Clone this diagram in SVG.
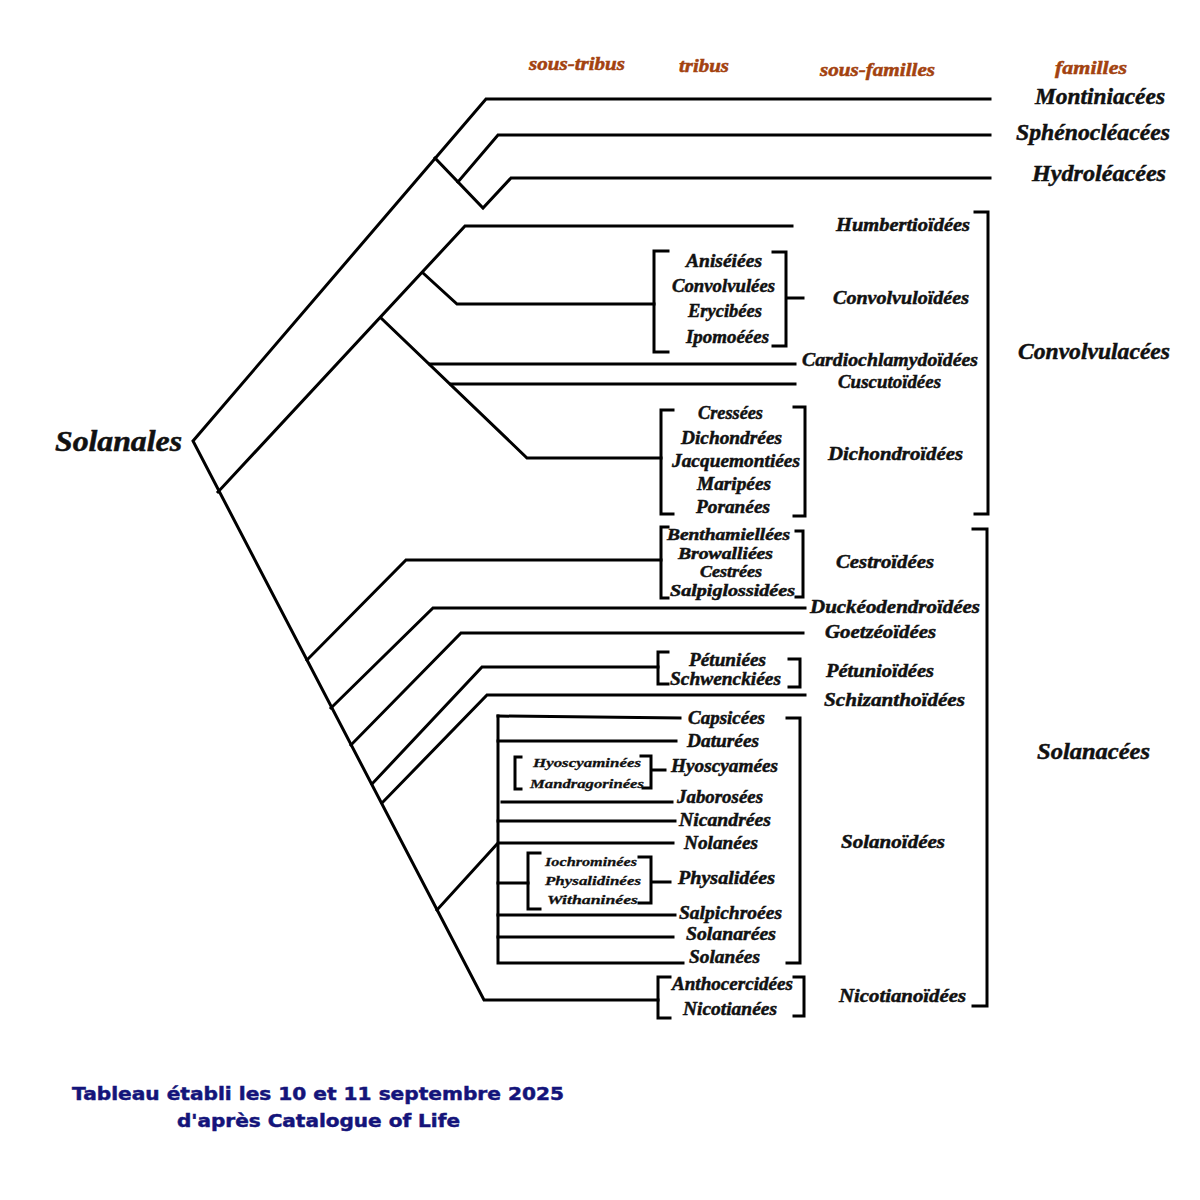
<svg xmlns="http://www.w3.org/2000/svg" width="1200" height="1200" viewBox="0 0 1200 1200">
<style>
.ln{stroke:#000;stroke-width:3;fill:none;stroke-linejoin:miter;stroke-linecap:square}
.t{font-family:"Liberation Serif","DejaVu Serif",serif;font-style:italic;font-weight:bold;fill:#111;stroke:#111;stroke-width:0.5}
.fam{font-size:24px}
.root{font-size:29px}
.sf{font-size:19px}
.tr{font-size:19px}
.tc{font-size:16.5px}
.st{font-size:13.5px;stroke-width:0.3}
.hd{font-size:19px;fill:#a3420f;stroke:#a3420f}
.ft{font-family:"DejaVu Sans","Liberation Sans",Arial,sans-serif;font-weight:bold;font-size:18px;fill:#14147a;stroke:#14147a;stroke-width:0.5}
</style>
<rect width="1200" height="1200" fill="#fff"/>
<g id="connectors">
<path class="ln" d="M990,99 H486 L193,441 L484,1000 H658"/>
<path class="ln" d="M435,158 L483,208 L511,178 H990"/>
<path class="ln" d="M458,182 L498,135 H990"/>
<path class="ln" d="M218,492 L465,226 H792"/>
<path class="ln" d="M423,273 L457,304 H654"/>
<path class="ln" d="M381,318 L527,458 H661"/>
<path class="ln" d="M430,364 H795"/>
<path class="ln" d="M451,384 H795"/>
<path class="ln" d="M307,660 L406,560 H661"/>
<path class="ln" d="M331,708 L433,608 H805"/>
<path class="ln" d="M351,745 L461,633 H803"/>
<path class="ln" d="M372,784 L482,667 H658"/>
<path class="ln" d="M382,803 L487,695 H805"/>
<path class="ln" d="M437,910 L498,843 H673"/>
<path class="ln" d="M498,716 V963 H683"/>
<path class="ln" d="M498,716 L680,718"/>
<path class="ln" d="M498,741 H676"/>
<path class="ln" d="M502,802 H672"/>
<path class="ln" d="M498,821 H675"/>
<path class="ln" d="M498,883 H528"/>
<path class="ln" d="M498,915 H675"/>
<path class="ln" d="M498,937 H673"/>
</g>
<g id="brackets">
<path class="ln" d="M668,251 H654 V352 H668"/>
<path class="ln" d="M773,252 H786 V346 H773 M786,298 H803"/>
<path class="ln" d="M673,410 H661 V514 H673"/>
<path class="ln" d="M794,407 H805 V516 H794"/>
<path class="ln" d="M668,527 H661 V598 H668"/>
<path class="ln" d="M796,531 H803 V597 H796"/>
<path class="ln" d="M668,652 H658 V684 H668"/>
<path class="ln" d="M789,659 H800 V687 H789"/>
<path class="ln" d="M521,757 H515 V789 H521"/>
<path class="ln" d="M641,756 H651 V788 H643 M651,770 H665"/>
<path class="ln" d="M540,853 H528 V909 H540"/>
<path class="ln" d="M639,857 H651 V903 H639 M651,882 H670"/>
<path class="ln" d="M787,718 H800 V963 H787"/>
<path class="ln" d="M670,977 H658 V1018 H670"/>
<path class="ln" d="M794,977 H804 V1016 H794"/>
<path class="ln" d="M975,212 H988 V514 H975"/>
<path class="ln" d="M973,529 H987 V1006 H973"/>
</g>
<g id="headers">
<text class="t hd" x="529" y="70" textLength="96" lengthAdjust="spacingAndGlyphs">sous-tribus</text>
<text class="t hd" x="679" y="72" textLength="50" lengthAdjust="spacingAndGlyphs">tribus</text>
<text class="t hd" x="820" y="76" textLength="115" lengthAdjust="spacingAndGlyphs">sous-familles</text>
<text class="t hd" x="1055" y="74" textLength="72" lengthAdjust="spacingAndGlyphs">familles</text>
</g>
<g id="n-solanales"><text class="t root" x="55" y="451" textLength="127" lengthAdjust="spacingAndGlyphs">Solanales</text></g>
<g id="n-montiniacees"><text class="t fam" x="1035" y="104" textLength="130" lengthAdjust="spacingAndGlyphs">Montiniacées</text></g>
<g id="n-sphenocleacees"><text class="t fam" x="1016" y="140" textLength="154" lengthAdjust="spacingAndGlyphs">Sphénocléacées</text></g>
<g id="n-hydroleacees"><text class="t fam" x="1032" y="181" textLength="134" lengthAdjust="spacingAndGlyphs">Hydroléacées</text></g>
<g id="n-convolvulacees"><text class="t fam" x="1018" y="359" textLength="152" lengthAdjust="spacingAndGlyphs">Convolvulacées</text></g>
<g id="n-solanacees"><text class="t fam" x="1037" y="759" textLength="113" lengthAdjust="spacingAndGlyphs">Solanacées</text></g>
<g id="subfamilies">
<g id="n-humbertioidees"><text class="t sf" x="836" y="231" textLength="134" lengthAdjust="spacingAndGlyphs">Humbertioïdées</text></g>
<g id="n-convolvuloidees"><text class="t sf" x="833" y="304" textLength="136" lengthAdjust="spacingAndGlyphs">Convolvuloïdées</text></g>
<g id="n-cardiochlamydoidees"><text class="t sf" x="802" y="366" textLength="176" lengthAdjust="spacingAndGlyphs">Cardiochlamydoïdées</text></g>
<g id="n-cuscutoidees"><text class="t sf" x="838" y="388" textLength="103" lengthAdjust="spacingAndGlyphs">Cuscutoïdées</text></g>
<g id="n-dichondroidees"><text class="t sf" x="828" y="460" textLength="135" lengthAdjust="spacingAndGlyphs">Dichondroïdées</text></g>
<g id="n-cestroidees"><text class="t sf" x="836" y="568" textLength="98" lengthAdjust="spacingAndGlyphs">Cestroïdées</text></g>
<g id="n-duckeodendroidees"><text class="t sf" x="810" y="613" textLength="170" lengthAdjust="spacingAndGlyphs">Duckéodendroïdées</text></g>
<g id="n-goetzeoidees"><text class="t sf" x="825" y="638" textLength="111" lengthAdjust="spacingAndGlyphs">Goetzéoïdées</text></g>
<g id="n-petunioidees"><text class="t sf" x="826" y="677" textLength="108" lengthAdjust="spacingAndGlyphs">Pétunioïdées</text></g>
<g id="n-schizanthoidees"><text class="t sf" x="824" y="706" textLength="141" lengthAdjust="spacingAndGlyphs">Schizanthoïdées</text></g>
<g id="n-solanoidees"><text class="t sf" x="841" y="848" textLength="104" lengthAdjust="spacingAndGlyphs">Solanoïdées</text></g>
<g id="n-nicotianoidees"><text class="t sf" x="839" y="1002" textLength="127" lengthAdjust="spacingAndGlyphs">Nicotianoïdées</text></g>
</g>
<g id="tribes">
<g id="n-aniseiees"><text class="t tr" x="686" y="267" textLength="76" lengthAdjust="spacingAndGlyphs">Aniséiées</text></g>
<g id="n-convolvulees"><text class="t tr" x="672" y="292" textLength="103" lengthAdjust="spacingAndGlyphs">Convolvulées</text></g>
<g id="n-erycibees"><text class="t tr" x="688" y="317" textLength="74" lengthAdjust="spacingAndGlyphs">Erycibées</text></g>
<g id="n-ipomoeees"><text class="t tr" x="686" y="343" textLength="83" lengthAdjust="spacingAndGlyphs">Ipomoéées</text></g>
<g id="n-cressees"><text class="t tr" x="698" y="419" textLength="65" lengthAdjust="spacingAndGlyphs">Cressées</text></g>
<g id="n-dichondrees"><text class="t tr" x="681" y="444" textLength="101" lengthAdjust="spacingAndGlyphs">Dichondrées</text></g>
<g id="n-jacquemontiees"><text class="t tr" x="672" y="467" textLength="128" lengthAdjust="spacingAndGlyphs">Jacquemontiées</text></g>
<g id="n-maripees"><text class="t tr" x="697" y="490" textLength="74" lengthAdjust="spacingAndGlyphs">Maripées</text></g>
<g id="n-poranees"><text class="t tr" x="696" y="513" textLength="74" lengthAdjust="spacingAndGlyphs">Poranées</text></g>
<g id="n-benthamiellees"><text class="t tc" x="667" y="540" textLength="123" lengthAdjust="spacingAndGlyphs">Benthamiellées</text></g>
<g id="n-browalliees"><text class="t tc" x="678" y="559" textLength="95" lengthAdjust="spacingAndGlyphs">Browalliées</text></g>
<g id="n-cestrees"><text class="t tc" x="700" y="577" textLength="62" lengthAdjust="spacingAndGlyphs">Cestrées</text></g>
<g id="n-salpiglossidees"><text class="t tc" x="670" y="596" textLength="125" lengthAdjust="spacingAndGlyphs">Salpiglossidées</text></g>
<g id="n-petuniees"><text class="t tr" x="689" y="666" textLength="77" lengthAdjust="spacingAndGlyphs">Pétuniées</text></g>
<g id="n-schwenckiees"><text class="t tr" x="670" y="685" textLength="111" lengthAdjust="spacingAndGlyphs">Schwenckiées</text></g>
<g id="n-capsicees"><text class="t tr" x="688" y="724" textLength="77" lengthAdjust="spacingAndGlyphs">Capsicées</text></g>
<g id="n-daturees"><text class="t tr" x="687" y="747" textLength="72" lengthAdjust="spacingAndGlyphs">Daturées</text></g>
<g id="n-hyoscyamees"><text class="t tr" x="671" y="772" textLength="107" lengthAdjust="spacingAndGlyphs">Hyoscyamées</text></g>
<g id="n-jaborosees"><text class="t tr" x="677" y="803" textLength="86" lengthAdjust="spacingAndGlyphs">Jaborosées</text></g>
<g id="n-nicandrees"><text class="t tr" x="679" y="826" textLength="92" lengthAdjust="spacingAndGlyphs">Nicandrées</text></g>
<g id="n-nolanees"><text class="t tr" x="684" y="849" textLength="74" lengthAdjust="spacingAndGlyphs">Nolanées</text></g>
<g id="n-physalidees"><text class="t tr" x="678" y="884" textLength="97" lengthAdjust="spacingAndGlyphs">Physalidées</text></g>
<g id="n-salpichroees"><text class="t tr" x="679" y="919" textLength="103" lengthAdjust="spacingAndGlyphs">Salpichroées</text></g>
<g id="n-solanarees"><text class="t tr" x="686" y="940" textLength="90" lengthAdjust="spacingAndGlyphs">Solanarées</text></g>
<g id="n-solanees"><text class="t tr" x="689" y="963" textLength="71" lengthAdjust="spacingAndGlyphs">Solanées</text></g>
<g id="n-anthocercidees"><text class="t tr" x="672" y="990" textLength="121" lengthAdjust="spacingAndGlyphs">Anthocercidées</text></g>
<g id="n-nicotianees"><text class="t tr" x="683" y="1015" textLength="94" lengthAdjust="spacingAndGlyphs">Nicotianées</text></g>
</g>
<g id="subtribes">
<g id="n-hyoscyaminees"><text class="t st" x="533" y="767" textLength="108" lengthAdjust="spacingAndGlyphs">Hyoscyaminées</text></g>
<g id="n-mandragorinees"><text class="t st" x="530" y="788" textLength="114" lengthAdjust="spacingAndGlyphs">Mandragorinées</text></g>
<g id="n-iochrominees"><text class="t st" x="545" y="866" textLength="92" lengthAdjust="spacingAndGlyphs">Iochrominées</text></g>
<g id="n-physalidinees"><text class="t st" x="545" y="885" textLength="96" lengthAdjust="spacingAndGlyphs">Physalidinées</text></g>
<g id="n-withaninees"><text class="t st" x="547" y="904" textLength="91" lengthAdjust="spacingAndGlyphs">Withaninées</text></g>
</g>
<g id="footer">
<text class="ft" x="72" y="1100" textLength="492" lengthAdjust="spacingAndGlyphs">Tableau établi les 10 et 11 septembre 2025</text>
<text class="ft" x="177" y="1127" textLength="283" lengthAdjust="spacingAndGlyphs">d'après Catalogue of Life</text>
</g>
</svg>
